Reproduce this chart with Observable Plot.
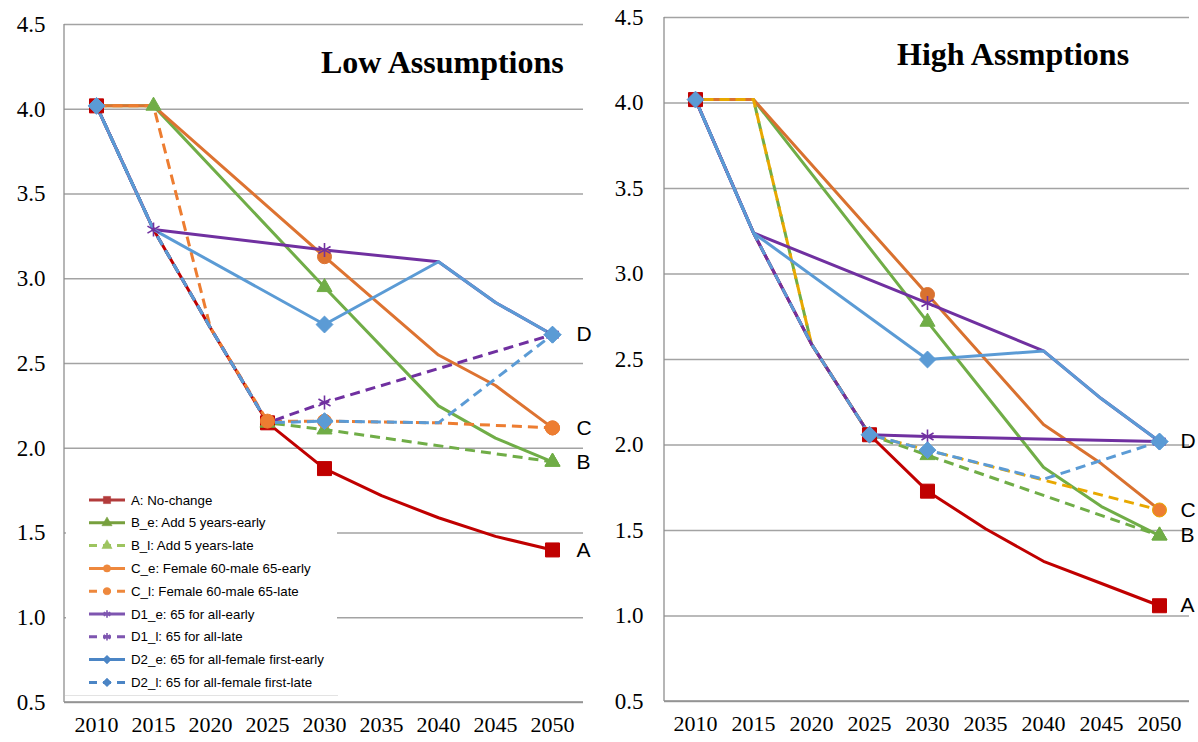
<!DOCTYPE html>
<html>
<head>
<meta charset="utf-8">
<script src="https://cdn.jsdelivr.net/npm/d3@7"></script>
<script src="https://cdn.jsdelivr.net/npm/@observablehq/plot@0.6"></script>
<style>
  body { margin: 0; background: #fff; }
  #wrap { position: relative; width: 1198px; height: 742px; overflow: hidden; }
  #left { position: absolute; left: 0; top: 0; }
  #right { position: absolute; left: 600px; top: 0; }
  #wrap svg text { font-family: 'Liberation Serif', 'Times New Roman', serif; }
  #wrap svg text.sans { font-family: 'Liberation Sans', Arial, sans-serif; }
</style>
</head>
<body>
<div id="wrap"><div id="left"></div><div id="right"></div></div>
<script>
// ---------- data ----------
const years = [2010, 2015, 2020, 2025, 2030, 2035, 2040, 2045, 2050];
const yTicks = [0.5, 1.0, 1.5, 2.0, 2.5, 3.0, 3.5, 4.0, 4.5];
const seriesKeys = ["A", "B_e", "B_l", "C_e", "C_l", "D1_e", "D1_l", "D2_e", "D2_l"];
const legendLabels = [
  "A: No-change", "B_e: Add 5 years-early", "B_l: Add 5 years-late",
  "C_e: Female 60-male 65-early", "C_l: Female 60-male 65-late",
  "D1_e: 65 for all-early", "D1_l: 65 for all-late",
  "D2_e: 65 for all-female first-early", "D2_l: 65 for all-female first-late"
];
const endLabels = ["A", "B", "C", "D"];
const endLabelSeries = ["A", "B_e", "C_e", "D2_e"];
const titles = ["Low Assumptions", "High Assmptions"];

// Low assumptions (null = no point at that year)
const lowA   = [4.02, 3.29, 2.71, 2.15, 1.88, 1.72, 1.59, 1.48, 1.40];
const lowBe  = [4.02, 4.02, null, null, 2.95, null, 2.25, 2.06, 1.92];
const lowBl  = [4.02, 3.29, 2.71, 2.15, 2.11, null, null, null, 1.92];
const lowCe  = [4.02, 4.02, null, null, 3.13, null, 2.55, 2.37, 2.12];
const lowCl  = [4.02, 4.02, 2.71, 2.16, 2.16, null, 2.15, null, 2.12];
const lowD1e = [4.02, 3.29, null, null, 3.17, null, 3.10, 2.86, 2.67];
const lowD1l = [4.02, 3.29, 2.71, 2.15, 2.27, null, null, null, 2.67];
const lowD2e = [4.02, 3.29, null, null, 2.73, null, 3.10, 2.86, 2.67];
const lowD2l = [4.02, 3.29, 2.71, 2.15, 2.16, null, 2.15, null, 2.67];

// High assumptions
const highA   = [4.02, 3.24, 2.59, 2.06, 1.73, 1.51, 1.32, 1.19, 1.06];
const highBe  = [4.02, 4.02, null, null, 2.72, null, 1.87, 1.64, 1.47];
const highBl  = [4.02, 4.02, 2.59, 2.06, 1.94, null, null, null, 1.47];
const highCe  = [4.02, 4.02, null, null, 2.88, null, 2.12, 1.89, 1.62];
const highCl  = [4.02, 4.02, 2.59, 2.06, 1.97, null, null, null, 1.62];
const highD1e = [4.02, 3.24, null, null, 2.83, null, 2.55, 2.27, 2.02];
const highD1l = [4.02, 3.24, 2.59, 2.06, 2.05, null, null, null, 2.02];
const highD2e = [4.02, 3.24, null, null, 2.50, null, 2.55, 2.27, 2.02];
const highD2l = [4.02, 3.24, 2.59, 2.06, 1.97, null, 1.80, null, 2.02];

// years that carry a marker, per series
const lowMarkerYears = [[2010, 2025, 2030, 2050], [2015, 2030, 2050], [2025, 2030, 2050], [2030, 2050],
  [2025, 2030, 2050], [2015, 2030, 2050], [2030, 2050], [2010, 2030, 2050], [2030, 2050]];
const highMarkerYears = [[2010, 2025, 2030, 2050], [2030, 2050], [2030, 2050], [2030], [2050],
  [2030, 2050], [2030, 2050], [2010, 2030, 2050], [2025, 2030, 2050]];

// ---------- styles ----------
const symbols = ["square", "triangle", "triangle", "circle", "circle", "asterisk", "asterisk", "diamond2", "diamond2"];
const symbolR = [7.9, 5.6, 5.6, 7, 7, 6.6, 6.6, 7.6, 7.6];
const lowColors = ["#C00000", "#70AD47", "#70AD47", "#DD7331", "#ED7D31", "#7030A0", "#7030A0", "#5B9BD5", "#5B9BD5"];
const highColors = ["#C00000", "#70AD47", "#70AD47", "#D9712F", "#E8A800", "#7030A0", "#7030A0", "#5B9BD5", "#5B9BD5"];
const lowDashed = [false, false, true, false, true, false, true, false, true];
const highDashed = [false, false, true, false, true, false, false, false, true];
const lowDashOffset = [0, 0, 0, 0, 0, 0, 0, 0, 0];
const highDashOffset = [0, 0, 0, 0, 8, 0, 0, 0, 0];
const lowMarkerFill = ["#C00000", "#70AD47", "#70AD47", "#DD7331", "#ED7D31", "none", "none", "#5B9BD5", "#5B9BD5"];
const highMarkerFill = ["#C00000", "#70AD47", "#70AD47", "#D9712F", "#ED7D31", "none", "none", "#5B9BD5", "#5B9BD5"];
const highMarkerStroke = ["#C00000", "#70AD47", "#70AD47", "#D9712F", "#E8A800", "#7030A0", "#7030A0", "#5B9BD5", "#5B9BD5"];
const legendColors = ["#B23B3B", "#77A03E", "#9DC45F", "#EE883D", "#EE883D", "#7E55B0", "#7E55B0", "#4B85C5", "#4B85C5"];
const legendDashed = [false, false, true, false, true, false, true, false, true];
const SERIF = "'Liberation Serif', 'Times New Roman', serif";
const SANS = "'Liberation Sans', Arial, sans-serif";

function drawPanel(cfg) {
  const lineMarks = [], dotMarks = [];
  seriesKeys.forEach((key, i) => {
    const pts = years.map((year, j) => ({year, value: cfg.values[i][j]})).filter(d => d.value != null);
    lineMarks.push(Plot.line(pts, {
      x: "year", y: "value", stroke: cfg.colors[i], strokeWidth: 3,
      strokeDasharray: cfg.dashed[i] ? "10,6" : null,
      strokeDashoffset: cfg.dashOffset[i],
      strokeLinejoin: "round", strokeLinecap: cfg.dashed[i] ? "butt" : "round"
    }));
    const mpts = pts.filter(d => cfg.markers[i].includes(d.year));
    const isStroke = symbols[i] === "asterisk";
    dotMarks.push(Plot.dot(mpts, {
      x: "year", y: "value", symbol: symbols[i], r: symbolR[i],
      fill: isStroke ? "none" : cfg.markerFill[i],
      stroke: isStroke ? cfg.colors[i] : (cfg.markerStroke ? cfg.markerStroke[i] : cfg.markerFill[i]),
      strokeWidth: isStroke ? 1.6 : 1
    }));
  });
  const ends = endLabels.map((t, k) => {
    const i = seriesKeys.indexOf(endLabelSeries[k]);
    return {label: t, year: years[years.length - 1], value: cfg.values[i][years.length - 1]};
  });
  const p = Plot.plot({
    width: cfg.width, height: 742,
    marginLeft: 64, marginRight: cfg.marginRight, marginTop: cfg.marginTop, marginBottom: cfg.marginBottom,
    style: {fontFamily: SERIF, fontSize: "22px", color: "#000", background: "transparent"},
    x: {type: "point", domain: years, padding: 0.5},
    y: {domain: [0.5, 4.5]},
    marks: [
      Plot.ruleY(yTicks, {stroke: "#a3a3a3", strokeWidth: 1.3}),
      Plot.axisY(yTicks, {tickSize: 0, tickPadding: cfg.yPad, tickFormat: d3.format(".1f"), label: null,
        fontSize: 23, fill: "#000"}),
      Plot.axisX(years, {tickSize: 0, tickPadding: 14, tickFormat: d => String(d), label: null,
        fontSize: 22, fill: "#000"}),
      ...lineMarks,
      ...dotMarks,
      Plot.text(ends, {x: "year", y: "value", text: "label", dx: cfg.labelDx, textAnchor: "start",
        fontSize: 21, fill: "#000"})
    ]
  });
  const svg = d3.select(p);
  // axis tick labels in serif, end labels in sans
  svg.selectAll("text").attr("font-family", SERIF).style("font-family", SERIF);
  svg.selectAll("text").filter(function () { return endLabels.includes(this.textContent); })
    .classed("sans", true).attr("font-family", SANS).style("font-family", SANS);
  // y axis line
  svg.append("line")
    .attr("x1", 64).attr("x2", 64)
    .attr("y1", cfg.marginTop).attr("y2", 742 - cfg.marginBottom)
    .attr("stroke", "#8f8f8f").attr("stroke-width", 1.3);
  // bottom axis line
  svg.append("line")
    .attr("x1", 64).attr("x2", cfg.width - cfg.marginRight)
    .attr("y1", 742 - cfg.marginBottom).attr("y2", 742 - cfg.marginBottom)
    .attr("stroke", "#8f8f8f").attr("stroke-width", 1.3);
  // title
  svg.append("text")
    .attr("x", cfg.titleX).attr("y", cfg.titleY)
    .attr("text-anchor", "start")
    .style("font-family", SERIF).style("font-weight", "bold").style("font-size", "32px")
    .attr("fill", "#000").text(cfg.title);
  return p;
}

function drawLegend(p) {
  const svg = d3.select(p);
  const g = svg.append("g");
  g.append("rect").attr("x", 66).attr("y", 482).attr("width", 271).attr("height", 213).attr("fill", "#fff");
  g.append("line").attr("x1", 65).attr("x2", 338).attr("y1", 695.5).attr("y2", 695.5)
    .attr("stroke", "#e3e3e3").attr("stroke-width", 1);
  const rowY = d3.range(legendLabels.length).map(k => 500 + k * 22.8);
  const symMap = {square: d3.symbolSquare, triangle: d3.symbolTriangle, circle: d3.symbolCircle,
    asterisk: d3.symbolAsterisk, diamond2: d3.symbolDiamond2};
  const symSize = {square: 52, triangle: 45, circle: 42, asterisk: 40, diamond2: 48};
  legendLabels.forEach((lab, k) => {
    const y = rowY[k];
    g.append("line").attr("x1", 89).attr("x2", 125).attr("y1", y).attr("y2", y)
      .attr("stroke", legendColors[k]).attr("stroke-width", 3)
      .attr("stroke-dasharray", legendDashed[k] ? "8,6" : null);
    const s = symbols[k];
    const path = d3.symbol(symMap[s], symSize[s])();
    g.append("path").attr("d", path).attr("transform", `translate(107,${y})`)
      .attr("fill", s === "asterisk" ? "none" : legendColors[k])
      .attr("stroke", legendColors[k]).attr("stroke-width", s === "asterisk" ? 1.6 : 0.5);
    g.append("text").attr("x", 131).attr("y", y).attr("dy", "0.35em")
      .attr("text-anchor", "start").classed("sans", true)
      .style("font-family", SANS).style("font-size", "13.3px").attr("fill", "#000").text(lab);
  });
}

const left = drawPanel({
  values: [lowA, lowBe, lowBl, lowCe, lowCl, lowD1e, lowD1l, lowD2e, lowD2l],
  markers: lowMarkerYears, colors: lowColors, dashed: lowDashed, dashOffset: lowDashOffset,
  markerFill: lowMarkerFill,
  width: 600, marginRight: 17, marginTop: 24, marginBottom: 40, yPad: 19, labelDx: 24,
  title: titles[0], titleX: 321, titleY: 73
});
drawLegend(left);
document.getElementById("left").appendChild(left);

const right = drawPanel({
  values: [highA, highBe, highBl, highCe, highCl, highD1e, highD1l, highD2e, highD2l],
  markers: highMarkerYears, colors: highColors, dashed: highDashed, dashOffset: highDashOffset,
  markerFill: highMarkerFill, markerStroke: highMarkerStroke,
  width: 598, marginRight: 9, marginTop: 17, marginBottom: 41, yPad: 21, labelDx: 21,
  title: titles[1], titleX: 297, titleY: 65
});
document.getElementById("right").appendChild(right);
</script>
</body>
</html>
